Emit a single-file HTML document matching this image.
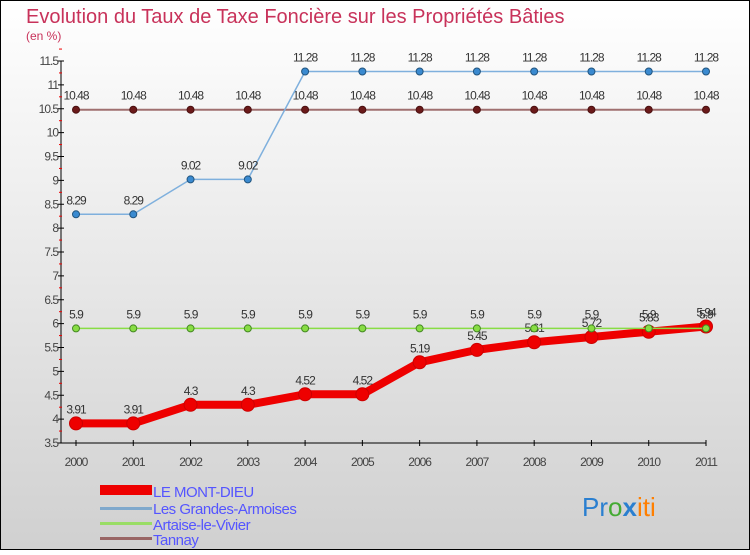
<!DOCTYPE html>
<html><head><meta charset="utf-8"><style>
body{margin:0}
#c{width:750px;height:550px;position:relative;font-family:"Liberation Sans",sans-serif;}
</style></head><body>
<div id="c">
<svg id="s" width="750" height="550" xmlns="http://www.w3.org/2000/svg">
<defs><linearGradient id="bg" x1="0" y1="0" x2="0" y2="1"><stop offset="0" stop-color="#ffffff"/><stop offset="1" stop-color="#d0d0d0"/></linearGradient></defs>
<rect x="0.5" y="0.5" width="749" height="549" fill="url(#bg)" stroke="#000"/>
<text x="26" y="23" font-size="20" fill="#c8325a">Evolution du Taux de Taxe Foncière sur les Propriétés Bâties</text>
<text x="26" y="40" font-size="12" fill="#c8325a">(en %)</text>
<g id="axes"></g><g id="series"></g>
<g>
<rect x="100" y="485" width="52" height="10" fill="#e00"/>
<text x="153" y="497" font-size="15" fill="#5555ff" letter-spacing="-0.5">LE MONT-DIEU</text>
<rect x="100" y="507" width="52" height="3" fill="#7fa8cc"/>
<text x="153" y="514" font-size="15" fill="#5555ff" letter-spacing="-0.5">Les Grandes-Armoises</text>
<rect x="100" y="522" width="52" height="3" fill="#99dd66"/>
<text x="153" y="530" font-size="15" fill="#5555ff" letter-spacing="-0.5">Artaise-le-Vivier</text>
<rect x="100" y="537" width="52" height="3" fill="#996666"/>
<text x="153" y="545" font-size="15" fill="#5555ff" letter-spacing="-0.5">Tannay</text>
</g>
<text x="582" y="516" font-size="26"><tspan fill="#2a7fd0">Pr</tspan><tspan fill="#44aa33">o</tspan><tspan fill="#2a7fd0" font-weight="bold">x</tspan><tspan fill="#ff7f00">iti</tspan></text>
</svg></div>
<script>
const years=[2000,2001,2002,2003,2004,2005,2006,2007,2008,2009,2010,2011];
const yTicks=[3.5,4,4.5,5,5.5,6,6.5,7,7.5,8,8.5,9,9.5,10,10.5,11,11.5];
const leMontDieu=[3.91,3.91,4.3,4.3,4.52,4.52,5.19,5.45,5.61,5.72,5.83,5.94];
const grandesArmoises=[8.29,8.29,9.02,9.02,11.28,11.28,11.28,11.28,11.28,11.28,11.28,11.28];
const artaise=[5.9,5.9,5.9,5.9,5.9,5.9,5.9,5.9,5.9,5.9,5.9,5.9];
const tannay=[10.48,10.48,10.48,10.48,10.48,10.48,10.48,10.48,10.48,10.48,10.48,10.48];
const NS="http://www.w3.org/2000/svg";
const X=i=>76+i*(630/(years.length-1));
const Y=v=>443-(v-3.5)*(382/8);
function mk(t,a,p){const e=document.createElementNS(NS,t);for(const k in a)e.setAttribute(k,a[k]);p.appendChild(e);return e;}
const ax=document.getElementById('axes'),sg=document.getElementById('series');
let l=mk('line',{x1:61,y1:Y(11.5),x2:61,y2:Y(3.5),stroke:'#000'},ax);

l=mk('line',{x1:61,y1:443,x2:706,y2:443,stroke:'#000'},ax);

yTicks.forEach(v=>{
 mk('line',{x1:58,y1:Y(v),x2:64,y2:Y(v),stroke:'#000'},ax);
 mk('line',{x1:59,y1:Y(v+0.25),x2:62,y2:Y(v+0.25),stroke:'#e00'},ax);
 const t=mk('text',{x:58,y:Y(v)+4,'font-size':12,'text-anchor':'end',fill:'#444','letter-spacing':'-1'},ax);
 t.textContent=v;
 
 
});
years.forEach((yr,i)=>{
 mk('line',{x1:X(i),y1:440,x2:X(i),y2:446,stroke:'#000'},ax);
 const t=mk('text',{x:X(i),y:466,'font-size':12,'text-anchor':'middle',fill:'#444','letter-spacing':'-1'},ax);
 t.textContent=yr;
 
 
});
function series(data,name,col,w,r,fill,stroke){
 const g=mk('g',{},sg);
 
 
 mk('polyline',{points:data.map((v,i)=>X(i)+','+Y(v)).join(' '),fill:'none',stroke:col,'stroke-width':w,'stroke-linejoin':'round'},g);
 data.forEach((v,i)=>{
  const c=mk('circle',{cx:X(i),cy:Y(v),r:r,fill:fill,stroke:stroke,'stroke-width':1},g);
  
  
  const t=mk('text',{x:X(i),y:Y(v)-10,'font-size':12,'text-anchor':'middle',fill:'#333','letter-spacing':'-1'},g);
  t.textContent=v;
  
  
 });
}
series(tannay,'tannay','#a07070',2,3.5,'#6b1a1a','#4a1010');
series(grandesArmoises,'grandes-armoises','#7fb0dd',1.5,3.5,'#3a8ad0','#22557f');
series(leMontDieu,'le-mont-dieu','#e00',8,6.5,'#e00','#c00');
series(artaise,'artaise','#88dd44',1.5,3.5,'#88dd44','#448822');
</script>
</body></html>
